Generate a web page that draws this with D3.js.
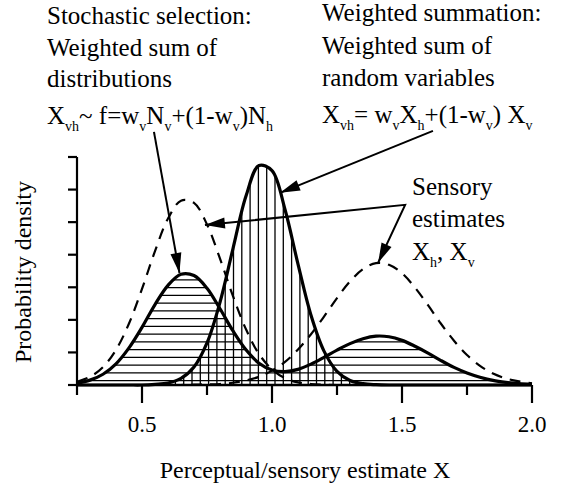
<!DOCTYPE html>
<html>
<head>
<meta charset="utf-8">
<script src="https://cdn.jsdelivr.net/npm/d3@7"></script>
<style>
  body { margin: 0; background: #fff; }
  svg { display: block; background: #fff; }
  svg text, svg tspan { font-family: "Liberation Serif", "Times New Roman", Times, serif; fill: #000; }
</style>
</head>
<body>
<svg id="chart"></svg>
<script>

// sample points along the x axis
var xs = [0.25, 0.30, 0.35, 0.40, 0.45, 0.50, 0.55, 0.60, 0.65, 0.70, 0.75, 0.80,
          0.85, 0.90, 0.95, 1.00, 1.05, 1.10, 1.15, 1.20, 1.25, 1.30, 1.35, 1.40,
          1.45, 1.50, 1.55, 1.60, 1.65, 1.70, 1.75, 1.80, 1.85, 1.90, 1.95, 2.00];

// sensory estimate X_v (dashed, left)
var sensoryV = [0.10, 0.25, 0.55, 1.08, 1.89, 2.95, 4.11, 5.11, 5.66, 5.59, 4.93, 3.88,
                2.73, 1.71, 0.95, 0.48, 0.21, 0.08, 0.03, 0.01, 0, 0, 0, 0,
                0, 0, 0, 0, 0, 0, 0, 0, 0, 0, 0, 0];

// sensory estimate X_h (dashed, right)
var sensoryH = [0, 0, 0, 0, 0, 0, 0, 0, 0, 0.01, 0.02, 0.03,
                0.07, 0.14, 0.25, 0.44, 0.71, 1.09, 1.56, 2.10, 2.67, 3.18, 3.56, 3.74,
                3.69, 3.43, 2.99, 2.45, 1.88, 1.36, 0.92, 0.59, 0.35, 0.20, 0.11, 0.05];

// stochastic selection (horizontal hatch)
var selection = [0.06, 0.15, 0.33, 0.65, 1.14, 1.77, 2.47, 3.06, 3.40, 3.36, 2.97, 2.34,
                 1.66, 1.08, 0.67, 0.46, 0.41, 0.48, 0.64, 0.85, 1.07, 1.27, 1.42, 1.50,
                 1.48, 1.37, 1.19, 0.98, 0.75, 0.54, 0.37, 0.24, 0.14, 0.08, 0.04, 0.02];

// weighted summation (vertical hatch)
var summation = [0, 0, 0, 0, 0, 0.00, 0.02, 0.06, 0.20, 0.55, 1.29, 2.54,
                 4.19, 5.80, 6.74, 6.58, 5.39, 3.71, 2.14, 1.04, 0.42, 0.14, 0.04, 0.01,
                 0, 0, 0, 0, 0, 0, 0, 0, 0, 0, 0, 0];

var xMinorTicks = [0.25, 0.75, 1.25, 1.75];
var xMajorTicks = [0.5, 1.0, 1.5, 2.0];
var yTicks = [0, 1, 2, 3, 4, 5, 6, 7];

// arrows, in data units: [start, tip] or [tip, corner, tip]
var arrowSelection = [[0.546, 7.77], [0.644, 3.44]];
var arrowSummation = [[1.619, 7.80], [1.031, 5.90]];
var arrowSensory = [[0.742, 4.91], [1.512, 5.53], [1.408, 3.75]];

var xLabel = "Perceptual/sensory estimate X";
var yLabel = "Probability density";
var serif = "'Liberation Serif', 'Times New Roman', Times, serif";

var width = 568;
var height = 488;

var svg = d3.select("#chart")
    .attr("width", width)
    .attr("height", height)
    .attr("font-family", serif);

var xScale = d3.scaleLinear().domain([0.25, 2.0]).range([77, 532]);
var yScale = d3.scaleLinear().domain([0, 7]).range([385, 157]);

var line = function(vals) {
  return d3.line()
    .x(function(d, i) { return xScale(xs[i]); })
    .y(function(d) { return yScale(d); })
    .curve(d3.curveCatmullRom)(vals);
};
var area = function(vals) {
  return d3.area()
    .x(function(d, i) { return xScale(xs[i]); })
    .y0(yScale(0))
    .y1(function(d) { return yScale(d); })
    .curve(d3.curveCatmullRom)(vals);
};

var defs = svg.append("defs");
defs.append("clipPath").attr("id", "clipSel")
  .append("path").attr("d", area(selection));
defs.append("clipPath").attr("id", "clipSum")
  .append("path").attr("d", area(summation));

//horizontal hatch under the selection curve
var hatchH = svg.append("g").attr("clip-path", "url(#clipSel)");
hatchH.selectAll("line")
  .data(d3.range(380.7, 150, -7.75))
  .enter().append("line")
  .attr("x1", xScale(0.25)).attr("x2", xScale(2.0))
  .attr("y1", function(d) { return d; }).attr("y2", function(d) { return d; })
  .attr("stroke", "#000").attr("stroke-width", 1.3);

//vertical hatch under the summation curve
var hatchV = svg.append("g").attr("clip-path", "url(#clipSum)");
hatchV.selectAll("line")
  .data(d3.range(283.3 - 8.3 * 30, 540, 8.3))
  .enter().append("line")
  .attr("y1", yScale(0)).attr("y2", yScale(7))
  .attr("x1", function(d) { return d; }).attr("x2", function(d) { return d; })
  .attr("stroke", "#000").attr("stroke-width", 1.3);

//dashed sensory curves
[sensoryV, sensoryH].forEach(function(vals) {
  svg.append("path")
    .attr("d", line(vals))
    .attr("fill", "none")
    .attr("stroke", "#000")
    .attr("stroke-width", 2.2)
    .attr("stroke-dasharray", "11,8");
});

//solid curves
[selection, summation].forEach(function(vals) {
  svg.append("path")
    .attr("d", line(vals))
    .attr("fill", "none")
    .attr("stroke", "#000")
    .attr("stroke-width", 3.2)
    .attr("stroke-linejoin", "round");
});

//axes (drawn by hand, ticks only)
var axes = svg.append("g").attr("stroke", "#000").attr("stroke-width", 2.2);
axes.append("line")
  .attr("x1", xScale(0.25)).attr("x2", xScale(2.0))
  .attr("y1", yScale(0)).attr("y2", yScale(0))
  .attr("stroke-width", 2.6);
axes.append("line")
  .attr("x1", xScale(0.25)).attr("x2", xScale(0.25))
  .attr("y1", yScale(0)).attr("y2", yScale(7));
axes.selectAll(".ytick").data(yTicks).enter().append("line")
  .attr("x1", xScale(0.25) - 9).attr("x2", xScale(0.25))
  .attr("y1", function(d) { return yScale(d); })
  .attr("y2", function(d) { return yScale(d); });
axes.selectAll(".xminor").data(xMinorTicks).enter().append("line")
  .attr("x1", function(d) { return xScale(d); })
  .attr("x2", function(d) { return xScale(d); })
  .attr("y1", yScale(0)).attr("y2", yScale(0) + 10);
axes.selectAll(".xmajor").data(xMajorTicks).enter().append("line")
  .attr("x1", function(d) { return xScale(d); })
  .attr("x2", function(d) { return xScale(d); })
  .attr("y1", yScale(0)).attr("y2", yScale(0) + 18);

svg.selectAll(".xlabel").data(xMajorTicks).enter().append("text")
  .attr("x", function(d) { return xScale(d); })
  .attr("y", 432)
  .attr("text-anchor", "middle")
  .attr("font-family", serif)
  .attr("font-size", "23px")
  .text(function(d) { return d.toFixed(1); });

svg.append("text")
  .attr("x", 305).attr("y", 478)
  .attr("text-anchor", "middle")
  .attr("font-family", serif)
  .attr("font-size", "24px")
  .text(xLabel);

svg.append("text")
  .attr("transform", "translate(31,272) rotate(-90)")
  .attr("text-anchor", "middle")
  .attr("font-family", serif)
  .attr("font-size", "24px")
  .text(yLabel);

//arrows
function arrowHead(tip, from) {
  var dx = tip[0] - from[0], dy = tip[1] - from[1];
  var len = Math.sqrt(dx * dx + dy * dy);
  var ux = dx / len, uy = dy / len;
  var bx = tip[0] - ux * 20, by = tip[1] - uy * 20;
  svg.append("path")
    .attr("d", "M" + tip[0] + "," + tip[1] +
      "L" + (bx - uy * 5.5) + "," + (by + ux * 5.5) +
      "L" + (bx + uy * 5.5) + "," + (by - ux * 5.5) + "Z")
    .attr("fill", "#000");
}
function px(p) { return [xScale(p[0]), yScale(p[1])]; }

[arrowSelection, arrowSummation].forEach(function(a) {
  var s = px(a[0]), t = px(a[1]);
  svg.append("line")
    .attr("x1", s[0]).attr("y1", s[1]).attr("x2", t[0]).attr("y2", t[1])
    .attr("stroke", "#000").attr("stroke-width", 2);
  arrowHead(t, s);
});
var sens = arrowSensory.map(px);
svg.append("path")
  .attr("d", d3.line()(sens))
  .attr("fill", "none").attr("stroke", "#000").attr("stroke-width", 2);
arrowHead(sens[0], sens[1]);
arrowHead(sens[2], sens[1]);

//text blocks with subscripts
function textLine(x, y, parts) {
  var t = svg.append("text").attr("x", x).attr("y", y)
    .attr("font-family", serif).attr("font-size", "25px");
  var sub = false;
  parts.forEach(function(p) {
    var isSub = p[1] === 1;
    var ts = t.append("tspan").text(p[0]);
    if (isSub && !sub) ts.attr("dy", 7);
    if (!isSub && sub) ts.attr("dy", -7);
    if (isSub) ts.attr("font-size", "14px");
    sub = isSub;
  });
}

textLine(47, 24, [["Stochastic selection:", 0]]);
textLine(47, 55.5, [["Weighted sum of", 0]]);
textLine(47, 87, [["distributions", 0]]);
textLine(47, 124, [["X", 0], ["vh", 1], ["~ f=w", 0], ["v", 1], ["N", 0], ["v", 1],
                   ["+(1-w", 0], ["v", 1], [")N", 0], ["h", 1]]);

textLine(322, 21, [["Weighted summation:", 0]]);
textLine(322, 54, [["Weighted sum of", 0]]);
textLine(322, 86, [["random variables", 0]]);
textLine(322, 123, [["X", 0], ["vh", 1], ["= w", 0], ["v", 1], ["X", 0], ["h", 1],
                    ["+(1-w", 0], ["v", 1], [") X", 0], ["v", 1]]);

textLine(412, 195, [["Sensory", 0]]);
textLine(412, 227, [["estimates", 0]]);
textLine(412, 260, [["X", 0], ["h", 1], [", X", 0], ["v", 1]]);

</script>
</body>
</html>
